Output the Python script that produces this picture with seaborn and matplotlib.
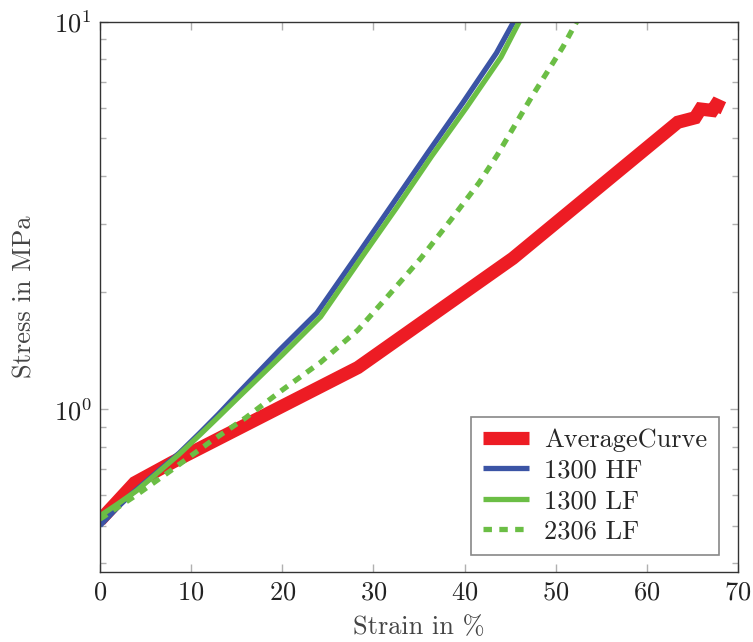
import numpy as np
import matplotlib
matplotlib.use("Agg")
import matplotlib.pyplot as plt
import seaborn as sns

# values (strain in %, stress in MPa)
avg_strain = [0.0, 3.8, 8.0, 28.3, 45.3, 63.4, 65.3, 65.9, 67.2, 67.6, 68.4]
avg_stress = [0.516, 0.645, 0.73, 1.28, 2.45, 5.5, 5.65, 5.95, 5.9, 6.1, 5.98]

hf1300_strain = [0.0, 2.0, 3.5, 8.7, 10.9, 13.0, 15.5, 19.7, 23.8, 28.6, 32.2, 36.0, 39.8, 43.5, 45.5]
hf1300_stress = [0.50, 0.56, 0.605, 0.77, 0.865, 0.97, 1.12, 1.42, 1.77, 2.57, 3.41, 4.6, 6.17, 8.3, 10.1]

lf1300_strain = [0.0, 2.0, 4.0, 8.7, 11.0, 13.0, 15.5, 20.0, 24.2, 28.9, 32.5, 36.4, 40.2, 44.0, 46.1]
lf1300_stress = [0.53, 0.57, 0.615, 0.765, 0.86, 0.955, 1.09, 1.38, 1.73, 2.5, 3.3, 4.5, 6.0, 8.1, 10.1]

lf2306_strain = [0.0, 4.0, 8.0, 12.0, 16.0, 20.0, 24.2, 28.3, 31.7, 35.2, 38.5, 41.6, 43.6, 47.3, 50.8, 52.4]
lf2306_stress = [0.52, 0.60, 0.70, 0.82, 0.95, 1.12, 1.32, 1.60, 1.97, 2.45, 3.08, 3.84, 4.53, 6.36, 8.61, 10.1]

x_ticks = [0, 10, 20, 30, 40, 50, 60, 70]

sns.set_theme(style="ticks")
plt.rcParams["font.family"] = ["cmr10", "DejaVu Serif"]
plt.rcParams["mathtext.fontset"] = "cm"
plt.rcParams["axes.formatter.use_mathtext"] = True
plt.rcParams["axes.unicode_minus"] = False

fig = plt.figure(figsize=(7.53, 6.42), dpi=100)
ax = fig.add_axes([0.1328, 0.1086, 0.8472, 0.8576])

red = "#ED1C24"
blue = "#3B54A5"
green = "#6BBE45"

sns.lineplot(x=avg_strain, y=avg_stress, ax=ax, color=red, linewidth=9.5,
             label="AverageCurve", solid_capstyle="butt", solid_joinstyle="miter", sort=False)
sns.lineplot(x=hf1300_strain, y=hf1300_stress, ax=ax, color=blue, linewidth=3.8,
             label="1300 HF", solid_capstyle="butt", sort=False)
sns.lineplot(x=lf1300_strain, y=lf1300_stress, ax=ax, color=green, linewidth=3.8,
             label="1300 LF", solid_capstyle="butt", sort=False)
sns.lineplot(x=lf2306_strain, y=lf2306_stress, ax=ax, color=green, linewidth=3.8,
             linestyle=(0, (1.6, 1.4)), label="2306 LF", sort=False)

ax.set_yscale("log")
ax.set_xlim(0, 70)
ax.set_ylim(0.379, 10)
ax.set_xticks(x_ticks)
ax.set_xlabel("Strain in %", fontsize=19, color="#444444", labelpad=8)
ax.set_ylabel("Stress in MPa", fontsize=19, color="#444444", labelpad=12)

ax.tick_params(which="both", direction="in", top=True, right=True,
               color="#b0b0b0", labelsize=19, labelcolor="#222222")
ax.tick_params(which="major", length=6, width=1, pad=6)
ax.tick_params(which="minor", length=4, width=1)
ax.tick_params(axis="x", which="minor", bottom=False, top=False)
for s in ax.spines.values():
    s.set_color("#333333")
    s.set_linewidth(1.0)

leg = ax.legend(loc="lower right", bbox_to_anchor=(0.97, 0.031), borderaxespad=0,
                fontsize=19, frameon=True, fancybox=False, framealpha=1,
                edgecolor="#888888", handlelength=1.75, handletextpad=0.55,
                labelspacing=0.25, borderpad=0.45)
leg.get_frame().set_linewidth(1.2)

plt.savefig("out.png", dpi=100)
